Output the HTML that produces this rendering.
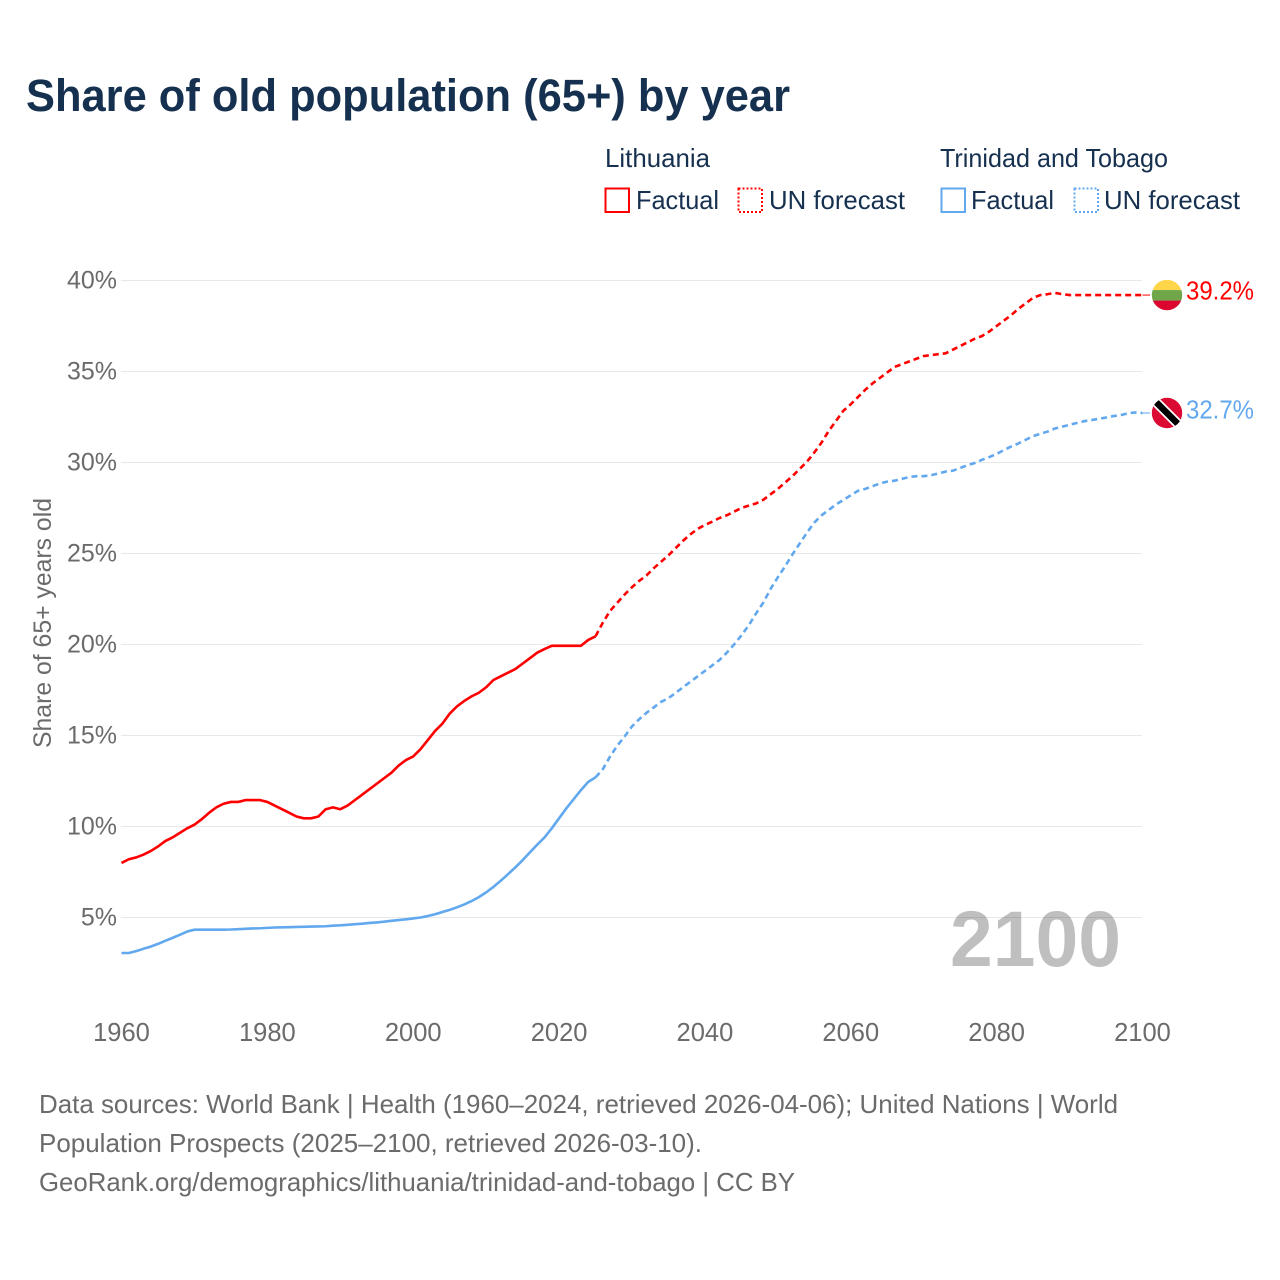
<!DOCTYPE html>
<html lang="en">
<head>
<meta charset="utf-8">
<title>Share of old population (65+) by year</title>
<style>
html,body{margin:0;padding:0;background:#fff;}
svg{display:block;font-family:"Liberation Sans",sans-serif;}
</style>
</head>
<body>
<svg id="chart" xmlns="http://www.w3.org/2000/svg" width="1280" height="1280" viewBox="0 0 1280 1280">
  <defs>
    <clipPath id="flag-clip"><circle cx="0" cy="0" r="15.2"></circle></clipPath>
  </defs>
  <rect x="0" y="0" width="1280" height="1280" fill="#ffffff"></rect>
  <text x="26" y="111" font-size="45" font-weight="700" fill="#16304f" textLength="764" lengthAdjust="spacingAndGlyphs">Share of old population (65+) by year</text>

  <g font-size="26" fill="#16304f">
    <text x="605" y="167" textLength="105" lengthAdjust="spacingAndGlyphs">Lithuania</text>
    <text x="940" y="167" textLength="228" lengthAdjust="spacingAndGlyphs">Trinidad and Tobago</text>
    <rect x="605.5" y="188.5" width="23.5" height="23.5" fill="none" stroke="#ff0000" stroke-width="2"></rect>
    <text x="636" y="209" textLength="83" lengthAdjust="spacingAndGlyphs">Factual</text>
    <rect x="738.5" y="188.5" width="23.5" height="23.5" fill="none" stroke="#ff0000" stroke-width="2" stroke-dasharray="2 2"></rect>
    <text x="769" y="209" textLength="136" lengthAdjust="spacingAndGlyphs">UN forecast</text>
    <rect x="941.5" y="188.5" width="23.5" height="23.5" fill="none" stroke="#62a8ee" stroke-width="2"></rect>
    <text x="971" y="209" textLength="83" lengthAdjust="spacingAndGlyphs">Factual</text>
    <rect x="1074.5" y="188.5" width="23.5" height="23.5" fill="none" stroke="#62a8ee" stroke-width="2" stroke-dasharray="2 2"></rect>
    <text x="1104" y="209" textLength="136" lengthAdjust="spacingAndGlyphs">UN forecast</text>
  </g>

  <g id="grid"></g>
  <g id="y-ticks"></g>
  <g id="x-ticks"></g>
  <text transform="translate(51 748) rotate(-90)" font-size="25" fill="#6b6b6b" textLength="250" lengthAdjust="spacingAndGlyphs">Share of 65+ years old</text>

  <g id="series"></g>

  <text id="year-watermark" x="950" y="966" font-size="79" font-weight="700" fill="#000000" fill-opacity="0.25" textLength="171" lengthAdjust="spacingAndGlyphs"></text>

  <g id="flag-lithuania">
    <g clip-path="url(#flag-clip)">
      <rect x="-16" y="-16" width="32" height="11" fill="#ffd54a"></rect>
      <rect x="-16" y="-5" width="32" height="10.5" fill="#6fa64a"></rect>
      <rect x="-16" y="5.5" width="32" height="11" fill="#dc0530"></rect>
    </g>
  </g>
  <g id="flag-trinidad">
    <g clip-path="url(#flag-clip)">
      <rect x="-16" y="-16" width="32" height="32" fill="#da0a32"></rect>
      <line x1="-15" y1="-15" x2="15" y2="15" stroke="#ffffff" stroke-width="10"></line>
      <line x1="-15" y1="-15" x2="15" y2="15" stroke="#000000" stroke-width="6.5"></line>
    </g>
  </g>
  <text id="value-lithuania" x="1186" font-size="26" fill="#ff0000" textLength="68" lengthAdjust="spacingAndGlyphs"></text>
  <text id="value-trinidad" x="1186" font-size="26" fill="#62a8ee" textLength="68" lengthAdjust="spacingAndGlyphs"></text>

  <g font-size="26" fill="#6b6b6b">
    <text x="39" y="1113" textLength="1079" lengthAdjust="spacingAndGlyphs">Data sources: World Bank | Health (1960–2024, retrieved 2026-04-06); United Nations | World</text>
    <text x="39" y="1152" textLength="663" lengthAdjust="spacingAndGlyphs">Population Prospects (2025–2100, retrieved 2026-03-10).</text>
    <text x="39" y="1191" textLength="756" lengthAdjust="spacingAndGlyphs">GeoRank.org/demographics/lithuania/trinidad-and-tobago | CC BY</text>
  </g>
</svg>
<script>
var factualStartYear = 1960;
var forecastStartYear = 2025;
var xTickLabels = [1960, 1980, 2000, 2020, 2040, 2060, 2080, 2100];
var yTickLabels = [5, 10, 15, 20, 25, 30, 35, 40];
var lithuaniaFactual = [
  8.0,8.2,8.3,8.45,8.65,8.9,9.2,9.4,9.65,9.9,
  10.1,10.4,10.75,11.05,11.25,11.35,11.35,11.45,11.45,11.45,
  11.35,11.15,10.95,10.75,10.55,10.45,10.45,10.55,10.95,11.05,
  10.95,11.15,11.45,11.75,12.05,12.35,12.65,12.95,13.35,13.65,
  13.85,14.25,14.75,15.25,15.65,16.2,16.6,16.9,17.15,17.35,
  17.65,18.05,18.25,18.45,18.65,18.95,19.25,19.55,19.75,19.93,
  19.93,19.93,19.93,19.93,20.25,20.45
];
var lithuaniaForecast = [
  20.45,21.2,21.85,22.3,22.75,23.15,23.5,23.8,24.2,24.55,
  24.9,25.3,25.7,26.05,26.35,26.57,26.75,26.95,27.1,27.3,
  27.5,27.63,27.75,27.95,28.25,28.55,28.9,29.25,29.65,30.05,
  30.55,31.1,31.75,32.3,32.85,33.2,33.6,34.0,34.35,34.65,
  34.95,35.25,35.4,35.55,35.7,35.85,35.9,35.95,36.0,36.2,
  36.4,36.6,36.8,36.95,37.2,37.5,37.8,38.1,38.45,38.75,
  39.05,39.2,39.25,39.32,39.25,39.2,39.2,39.2,39.2,39.2,
  39.2,39.2,39.2,39.2,39.2,39.2
];
var trinidadFactual = [
  3.05,3.05,3.15,3.28,3.4,3.55,3.72,3.88,4.05,4.23,
  4.33,4.33,4.33,4.33,4.33,4.34,4.36,4.38,4.4,4.41,
  4.43,4.45,4.46,4.47,4.48,4.49,4.5,4.51,4.52,4.55,
  4.57,4.6,4.63,4.66,4.7,4.73,4.77,4.82,4.86,4.9,
  4.95,5.0,5.08,5.18,5.3,5.42,5.56,5.72,5.9,6.12,
  6.38,6.68,7.02,7.38,7.75,8.15,8.58,9.0,9.4,9.9,
  10.45,11.0,11.5,12.0,12.45,12.7
];
var trinidadForecast = [
  12.7,13.15,13.85,14.45,14.95,15.5,15.9,16.25,16.55,16.85,
  17.05,17.35,17.65,17.95,18.25,18.55,18.85,19.15,19.55,20.0,
  20.5,21.05,21.7,22.3,23.05,23.7,24.3,24.95,25.55,26.15,
  26.7,27.1,27.4,27.7,27.95,28.2,28.45,28.55,28.7,28.85,
  28.95,29.0,29.1,29.2,29.25,29.25,29.3,29.4,29.5,29.55,
  29.7,29.85,29.97,30.15,30.3,30.47,30.68,30.88,31.05,31.25,
  31.45,31.58,31.7,31.87,31.97,32.07,32.17,32.27,32.33,32.4,
  32.47,32.55,32.6,32.7,32.75,32.72
];

var SVG_NS = 'http://www.w3.org/2000/svg';
function xScale(year) { return 121.5 + (year - 1960) * (1021 / 140); }
function yScale(value) { return 1008.5 - value * 18.2; }
function makeEl(tag) { return document.createElementNS(SVG_NS, tag); }
function pathFor(values, startYear) {
  var d = '';
  for (var i = 0; i < values.length; i++) {
    d += (i ? 'L' : 'M') + xScale(startYear + i).toFixed(2) + ' ' + yScale(values[i]).toFixed(2);
  }
  return d;
}

var grid = document.getElementById('grid');
var yTicks = document.getElementById('y-ticks');
yTickLabels.forEach(function (v) {
  var line = makeEl('line');
  
  
  line.setAttribute('x1', 121);
  line.setAttribute('x2', 1142);
  line.setAttribute('y1', yScale(v));
  line.setAttribute('y2', yScale(v));
  line.setAttribute('stroke', '#e8e8e8');
  line.setAttribute('stroke-width', 1);
  grid.appendChild(line);
  var t = makeEl('text');
  
  
  t.setAttribute('x', 117);
  t.setAttribute('y', yScale(v) + 8);
  t.setAttribute('text-anchor', 'end');
  t.setAttribute('font-size', 25);
  t.setAttribute('fill', '#6b6b6b');
  t.textContent = v + '%';
  yTicks.appendChild(t);
});

var xTicks = document.getElementById('x-ticks');
xTickLabels.forEach(function (y) {
  var t = makeEl('text');
  
  
  t.setAttribute('x', xScale(y));
  t.setAttribute('y', 1041);
  t.setAttribute('text-anchor', 'middle');
  t.setAttribute('font-size', 25.5);
  t.setAttribute('fill', '#6b6b6b');
  t.textContent = y;
  xTicks.appendChild(t);
});

var seriesGroup = document.getElementById('series');
function addLine(name, values, startYear, colour, dashed) {
  var p = makeEl('path');
  
  
  p.setAttribute('d', pathFor(values, startYear));
  p.setAttribute('fill', 'none');
  p.setAttribute('stroke', colour);
  p.setAttribute('stroke-width', 2.6);
  p.setAttribute('stroke-linejoin', 'round');
  if (dashed) { p.setAttribute('stroke-dasharray', '6 4'); }
  seriesGroup.appendChild(p);
}
addLine('line-lithuania-factual', lithuaniaFactual, factualStartYear, '#ff0000', false);
addLine('line-lithuania-forecast', lithuaniaForecast, forecastStartYear, '#ff0000', true);
addLine('line-trinidad-factual', trinidadFactual, factualStartYear, '#62a8ee', false);
addLine('line-trinidad-forecast', trinidadForecast, forecastStartYear, '#62a8ee', true);

function addConnector(name, value, colour) {
  var c = makeEl('line');
  
  
  c.setAttribute('x1', xScale(2100));
  c.setAttribute('x2', 1150);
  c.setAttribute('y1', yScale(value));
  c.setAttribute('y2', yScale(value));
  c.setAttribute('stroke', colour);
  c.setAttribute('stroke-width', 1);
  seriesGroup.appendChild(c);
}
var lastLithuania = lithuaniaForecast[lithuaniaForecast.length - 1];
var lastTrinidad = trinidadForecast[trinidadForecast.length - 1];
addConnector('connector-lithuania', lastLithuania, '#ff0000');
addConnector('connector-trinidad', lastTrinidad, '#62a8ee');

document.getElementById('flag-lithuania').setAttribute('transform', 'translate(1167 ' + yScale(lastLithuania) + ')');
document.getElementById('flag-trinidad').setAttribute('transform', 'translate(1167 ' + yScale(lastTrinidad) + ')');
var vl = document.getElementById('value-lithuania');
vl.setAttribute('y', yScale(lastLithuania) + 4.5);
vl.textContent = lastLithuania.toFixed(1) + '%';
var vt = document.getElementById('value-trinidad');
vt.setAttribute('y', yScale(lastTrinidad) + 5.5);
vt.textContent = lastTrinidad.toFixed(1) + '%';
document.getElementById('year-watermark').textContent = forecastStartYear + lithuaniaForecast.length - 1;
</script>
</body>
</html>
